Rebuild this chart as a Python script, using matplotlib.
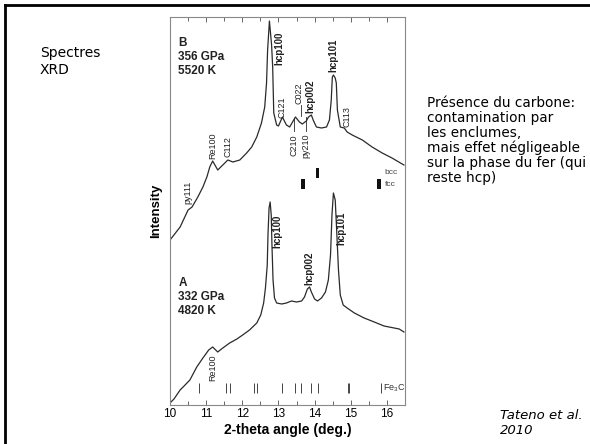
import matplotlib
matplotlib.use("Agg")
import matplotlib.pyplot as plt
from matplotlib.lines import Line2D
from matplotlib.ticker import MultipleLocator

# 2-theta (deg) / intensity (arb.) for the two XRD patterns
two_theta_b = [10.00, 10.28, 10.50, 10.61, 10.77, 10.91, 11.02, 11.10, 11.18, 11.32,
               11.46, 11.60, 11.74, 11.93, 12.12, 12.26, 12.40, 12.53, 12.62, 12.67,
               12.70, 12.75, 12.81, 12.84, 12.87, 12.95, 13.00, 13.11, 13.22, 13.31,
               13.39, 13.47, 13.58, 13.66, 13.77, 13.83, 13.91, 13.96, 14.05, 14.19,
               14.33, 14.41, 14.46, 14.49, 14.52, 14.57, 14.60, 14.63, 14.71, 14.82,
               14.90, 15.04, 15.32, 15.59, 15.87, 16.14, 16.47]
intensity_b = [165, 178, 195, 198, 208, 218, 228, 238, 244, 235,
               240, 245, 243, 245, 252, 258, 268, 282, 298, 322,
               355, 384, 360, 338, 292, 280, 279, 288, 280, 278,
               283, 288, 283, 281, 284, 288, 290, 285, 278, 277,
               278, 285, 305, 328, 330, 327, 322, 295, 278, 277,
               273, 270, 265, 258, 252, 247, 240]

two_theta_a = [10.00, 10.11, 10.28, 10.39, 10.55, 10.74, 10.91, 11.07, 11.18, 11.32,
               11.46, 11.65, 11.85, 12.01, 12.20, 12.40, 12.51, 12.59, 12.64, 12.69,
               12.71, 12.74, 12.77, 12.80, 12.82, 12.85, 12.89, 12.95, 13.09, 13.22,
               13.36, 13.50, 13.64, 13.72, 13.80, 13.86, 13.91, 14.00, 14.08, 14.19,
               14.30, 14.38, 14.44, 14.48, 14.52, 14.57, 14.61, 14.66, 14.71, 14.79,
               14.90, 15.10, 15.37, 15.65, 15.92, 16.20, 16.34, 16.47]
intensity_a = [2, 6, 15, 19, 25, 38, 47, 55, 58, 53,
               57, 62, 66, 70, 75, 82, 90, 102, 117, 140,
               170, 197, 203, 190, 160, 125, 107, 102, 101, 102,
               104, 103, 104, 108, 116, 118, 113, 106, 104, 107,
               113, 125, 150, 190, 212, 205, 175, 135, 110, 100,
               97, 92, 87, 83, 79, 77, 76, 73]

# reference reflections
fe3c_lines = [10.81, 11.56, 11.65, 12.32, 12.41, 13.10, 13.46, 13.63, 13.90, 14.10,
              14.91, 14.96, 15.83]
bcc_lines = [14.08]
fcc_lines = [13.69, 15.77]

# peak labels: (text, x, y, bold)
labels_b = [("py111", 10.50, 213, False), ("Re100", 11.18, 259, False),
            ("C112", 11.61, 258, False), ("hcp100", 13.03, 357, True),
            ("C121", 13.09, 298, False), ("C022", 13.58, 312, False),
            ("hcp002", 13.87, 309, True), ("C210", 13.44, 260, False),
            ("py210", 13.77, 259, False), ("hcp101", 14.52, 350, True),
            ("C113", 14.90, 288, False)]
labels_a = [("Re100", 11.18, 37, False), ("hcp100", 12.98, 174, True),
            ("hcp002", 13.86, 137, True), ("hcp101", 14.74, 177, True)]

notes_right = ["Présence du carbone:", "contamination par", "les enclumes,",
               "mais effet négligeable", "sur la phase du fer (qui", "reste hcp)"]

W, H = 590, 444
fig = plt.figure(figsize=(W / 100, H / 100), dpi=100)
ax = fig.add_axes([170 / W, 1 - 405 / H, 235 / W, 388 / H])

line_col = "#2a2a2a"
ax.plot(two_theta_b, intensity_b, color=line_col, lw=0.9)
ax.plot(two_theta_a, intensity_a, color=line_col, lw=0.9)

ax.vlines(fe3c_lines, 12, 22, color="#444444", lw=0.7)
ax.bar(bcc_lines, 10, bottom=227, width=0.11, color="#111111")
ax.bar(fcc_lines, 10, bottom=216, width=0.11, color="#111111")

lab_font = "Liberation Sans"
ax.text(15.88, 17, "Fe$_\\mathregular{3}$C", fontsize=6.5, family=lab_font,
        va="center", ha="left", color="#333333")
ax.text(15.94, 232, "bcc", fontsize=6, family=lab_font, va="center", color="#444444")
ax.text(15.94, 220, "fcc", fontsize=6, family=lab_font, va="center", color="#444444")

for txt, x, y, bold in labels_b + labels_a:
    ax.text(x, y, txt, rotation=90, ha="center", va="center", family=lab_font,
            fontsize=7 if bold else 6.5, fontweight="bold" if bold else "normal",
            color="#222222")

# short leader lines for the carbon reflections
ax.plot([13.61, 13.61], [300, 289], color=line_col, lw=0.6)
ax.plot([13.44, 13.44], [287, 274], color=line_col, lw=0.6)
ax.plot([13.77, 13.77], [288, 274], color=line_col, lw=0.6)

for lines, y0 in ((["B", "356 GPa", "5520 K"], 362), (["A", "332 GPa", "4820 K"], 122)):
    for i, s in enumerate(lines):
        ax.text(10.23, y0 - 14 * i, s, fontsize=8.5, fontweight="bold",
                family=lab_font, va="center", ha="left", color="#222222")

ax.set_xlim(10, 16.5)
ax.set_ylim(0, 388)
ax.set_yticks([])
ax.xaxis.set_major_locator(MultipleLocator(1))
ax.xaxis.set_minor_locator(MultipleLocator(0.5))
ax.tick_params(axis="x", which="both", direction="in", top=True, bottom=True,
               color="#666666", width=0.7)
ax.tick_params(axis="x", which="major", length=3.5, labelsize=8.5, pad=2.5)
ax.tick_params(axis="x", which="minor", length=3)
for lbl in ax.get_xticklabels():
    lbl.set_family(lab_font)
for sp in ax.spines.values():
    sp.set_color("#888888")
    sp.set_linewidth(0.8)

ax.set_xlabel("2-theta angle (deg.)", fontsize=10, fontweight="bold",
              family=lab_font, labelpad=1.5)
ax.set_ylabel("Intensity", fontsize=9.5, fontweight="bold", family=lab_font,
              labelpad=6)

# slide frame and side texts
fig.add_artist(Line2D([5 / W, 1], [1 - 5 / H] * 2, color="black", lw=2,
                      transform=fig.transFigure))
fig.add_artist(Line2D([5 / W, 5 / W], [0, 1 - 5 / H], color="black", lw=2,
                      transform=fig.transFigure))

fig.text(40 / W, 1 - 53 / H, "Spectres", fontsize=10, va="center", ha="left")
fig.text(40 / W, 1 - 70 / H, "XRD", fontsize=10, va="center", ha="left")
for i, s in enumerate(notes_right):
    fig.text(427 / W, 1 - (103 + 15 * i) / H, s, fontsize=9.8, va="center", ha="left")
fig.text(500 / W, 1 - 415 / H, "Tateno et al.", fontsize=9.5, style="italic",
         va="center", ha="left")
fig.text(500 / W, 1 - 430 / H, "2010", fontsize=9.5, style="italic",
         va="center", ha="left")

fig.savefig("out.png", dpi=100)
